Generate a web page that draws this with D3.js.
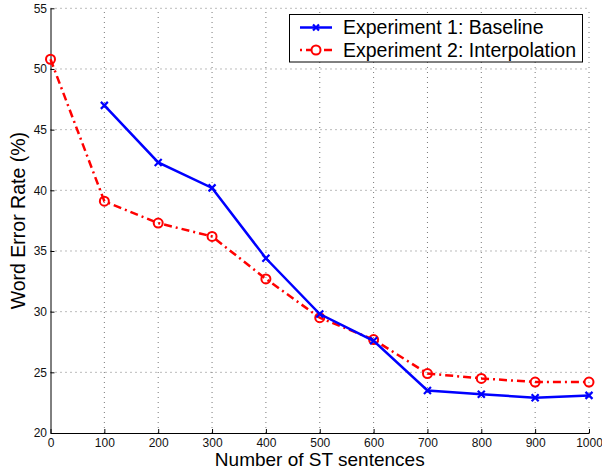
<!DOCTYPE html>
<meta charset="utf-8">
<script src="https://d3js.org/d3.v7.min.js"></script>
<style>
  body { margin: 0; background: #fff; }
  text { font-family: "Liberation Sans", Arial, sans-serif; }
</style>
<body>
<script>

// data
var sentences = [0, 100, 200, 300, 400, 500, 600, 700, 800, 900, 1000];
var baseline = [null, 47.0, 42.3, 40.2, 34.4, 29.8, 27.6, 23.5, 23.2, 22.9, 23.1];
var interpolation = [50.8, 39.1, 37.3, 36.2, 32.7, 29.5, 27.7, 24.9, 24.5, 24.2, 24.2];
var xTicks = [0, 100, 200, 300, 400, 500, 600, 700, 800, 900, 1000];
var yTicks = [20, 25, 30, 35, 40, 45, 50, 55];
var seriesNames = ["Experiment 1: Baseline", "Experiment 2: Interpolation"];

var width = 602,
    height = 469;

var svg = d3.select("body").append("svg")
    .attr("width", width)
    .attr("height", height);

var x = d3.scaleLinear().domain([0, 1000]).range([50.5, 589]);
var y = d3.scaleLinear().domain([20, 55]).range([433, 8.3]);

// dotted grid
var grid = svg.append("g");
grid.selectAll(".vg").data(xTicks.slice(1)).enter().append("line")
    .attr("x1", function(d) { return x(d); })
    .attr("x2", function(d) { return x(d); })
    .attr("y1", y(20)).attr("y2", y(55))
    .style("stroke", "#555").style("stroke-width", 0.8)
    .style("stroke-dasharray", "1,4");
grid.selectAll(".hg").data(yTicks.slice(1)).enter().append("line")
    .attr("x1", x(0)).attr("x2", x(1000))
    .attr("y1", function(d) { return y(d); })
    .attr("y2", function(d) { return y(d); })
    .style("stroke", "#555").style("stroke-width", 0.8)
    .style("stroke-dasharray", "1,4");

// axes
var xAxis = svg.append("g")
    .attr("transform", "translate(0," + y(20) + ")")
    .call(d3.axisBottom(x).tickValues(xTicks).tickFormat(d3.format("d"))
        .tickSizeInner(-4).tickSizeOuter(0).tickPadding(5));
var yAxis = svg.append("g")
    .attr("transform", "translate(" + x(0) + ",0)")
    .call(d3.axisLeft(y).tickValues(yTicks).tickFormat(d3.format("d"))
        .tickSizeInner(-4).tickSizeOuter(0).tickPadding(3.5));

[xAxis, yAxis].forEach(function(a) {
    a.select(".domain").style("stroke", "#000").style("stroke-width", 1);
    a.selectAll(".tick line").style("stroke", "#000");
    a.selectAll("text").style("font-size", "12px").style("fill", "#111")
        .style("font-family", "'Liberation Sans', Arial, sans-serif");
});

// axis titles
svg.append("text")
    .attr("x", x(500)).attr("y", 466)
    .attr("text-anchor", "middle")
    .style("font-size", "19px")
    .text("Number of ST sentences");
svg.append("text")
    .attr("transform", "translate(25," + y(37.5) + ") rotate(-90)")
    .attr("text-anchor", "middle")
    .style("font-size", "19.5px")
    .text("Word Error Rate (%)");

var line = d3.line()
    .defined(function(d) { return d[1] != null; })
    .x(function(d) { return x(d[0]); })
    .y(function(d) { return y(d[1]); });

var basePts = sentences.map(function(s, i) { return [s, baseline[i]]; });
var interpPts = sentences.map(function(s, i) { return [s, interpolation[i]]; });

// interpolation series (red dash-dot, circles)
svg.append("path").datum(interpPts)
    .attr("d", line)
    .style("fill", "none").style("stroke", "#ff0000")
    .style("stroke-width", 2.5)
    .style("stroke-dasharray", "8,4,2,4");

svg.selectAll(".circ").data(interpPts).enter().append("circle")
    .attr("cx", function(d) { return x(d[0]); })
    .attr("cy", function(d) { return y(d[1]); })
    .attr("r", 4.5)
    .style("fill", "none").style("stroke", "#ff0000").style("stroke-width", 2);

// baseline series (blue solid, x markers)
svg.append("path").datum(basePts)
    .attr("d", line)
    .style("fill", "none").style("stroke", "#0000ff")
    .style("stroke-width", 2.5);

function cross(g, cx, cy, s, color) {
    g.append("path")
        .attr("d", "M" + (cx - s) + "," + (cy - s) + "L" + (cx + s) + "," + (cy + s) +
                   "M" + (cx - s) + "," + (cy + s) + "L" + (cx + s) + "," + (cy - s))
        .style("stroke", color).style("stroke-width", 2.2);
}
basePts.filter(function(d) { return d[1] != null; }).forEach(function(d) {
    cross(svg, x(d[0]), y(d[1]), 3.5, "#0000ff");
});

// legend
var legend = svg.append("g");
legend.append("rect")
    .attr("x", 289.5).attr("y", 14.5)
    .attr("width", 293).attr("height", 47.5)
    .style("fill", "#fff").style("stroke", "#000").style("stroke-width", 1);

var rows = [27.5, 50];
legend.append("line")
    .attr("x1", 300).attr("x2", 332).attr("y1", rows[0]).attr("y2", rows[0])
    .style("stroke", "#0000ff").style("stroke-width", 2.5);
cross(legend, 316, rows[0], 3, "#0000ff");
legend.append("line")
    .attr("x1", 300).attr("x2", 332).attr("y1", rows[1]).attr("y2", rows[1])
    .style("stroke", "#ff0000").style("stroke-width", 2.5)
    .style("stroke-dasharray", "2,4,8,4");
legend.append("circle")
    .attr("cx", 316).attr("cy", rows[1]).attr("r", 4.5)
    .style("fill", "#fff").style("stroke", "#ff0000").style("stroke-width", 2);

legend.selectAll(".lt").data(seriesNames).enter().append("text")
    .attr("x", 343)
    .attr("y", function(d, i) { return rows[i] + 6.5; })
    .style("font-size", "19.5px")
    .text(function(d) { return d; });

</script>
</body>
